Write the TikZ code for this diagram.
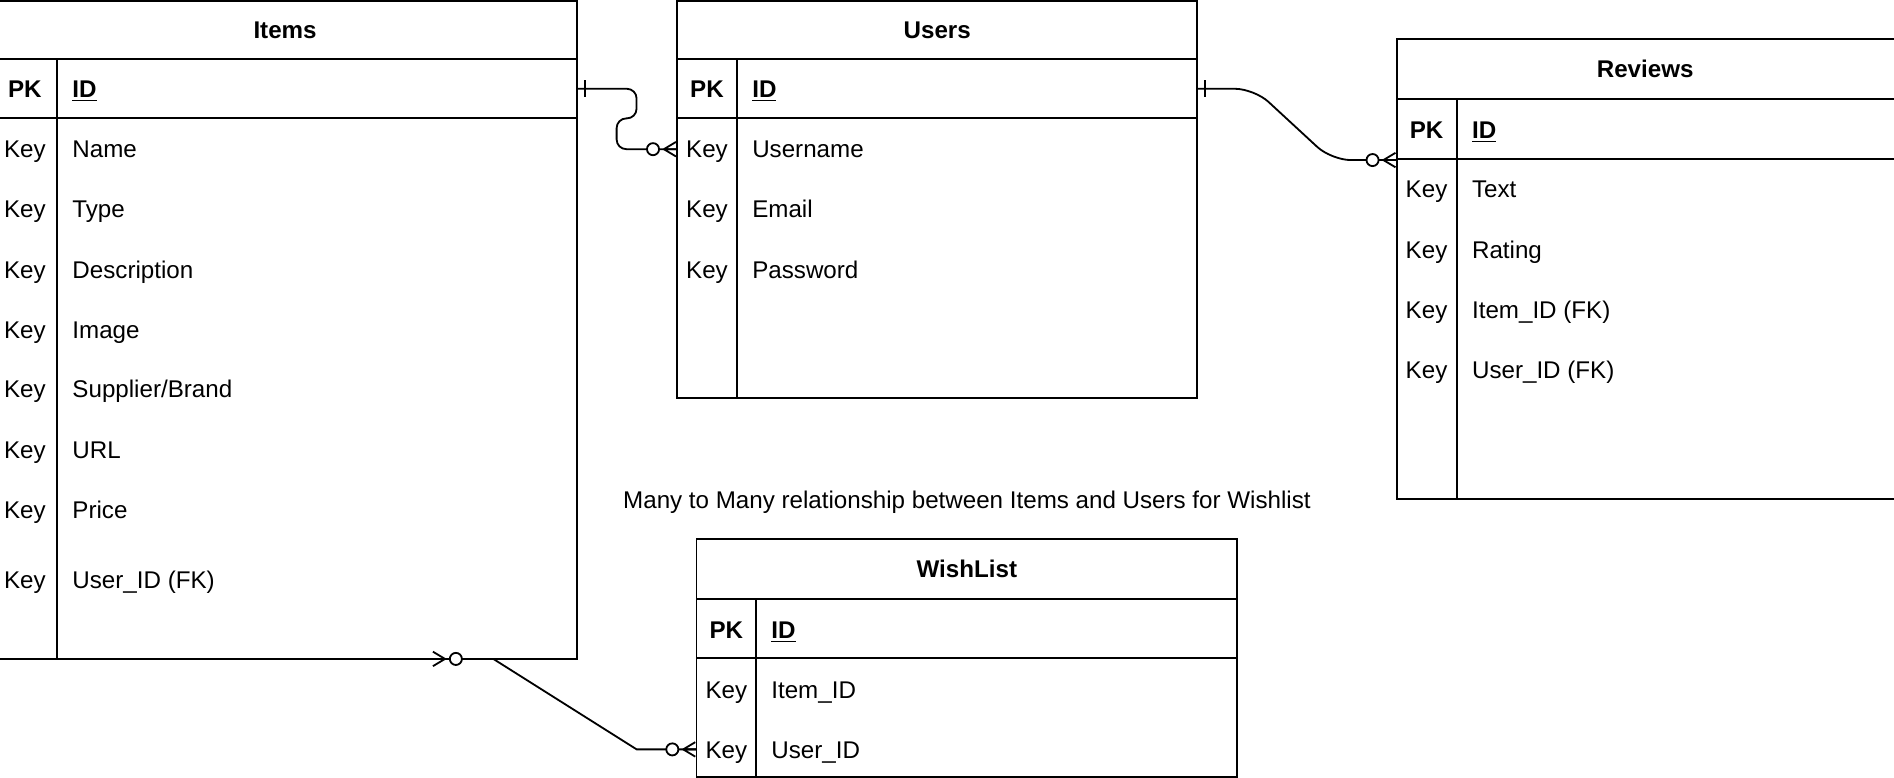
\documentclass[tikz,border=0pt]{standalone}
\usepackage{fontspec}
\setmainfont{Liberation Sans}
\usetikzlibrary{calc}
\tikzset{
 tbl/.style={draw=black, line width=0.8pt},
 tblbox/.style={tbl, inner sep=0pt, outer sep=0pt, anchor=north west},
 txt/.style={inner sep=0pt, outer sep=0pt, text height=7.16pt, text depth=0pt, font=\fontsize{10pt}{12pt}\selectfont},
 fld/.style={txt, anchor=west},
 keyc/.style={txt, anchor=center},
 pkc/.style={txt, anchor=center, font=\fontsize{10pt}{12pt}\selectfont\bfseries},
 ttl/.style={txt, anchor=center, font=\fontsize{10pt}{12pt}\selectfont\bfseries},
 conn/.style={draw=black, line width=0.75pt},
 zeromany/.pic={
   \draw[conn] (-11,0) -- (-1,-6) (-11,0) -- (-1,6) (-11,0) -- (0,0);
   \draw[conn, fill=white] (-20,0) circle[radius=2.5pt];
 },
 onebar/.pic={
   \draw[conn] (6.6,-7) -- (6.6,7);
 },
}
\begin{document}
\begin{tikzpicture}[x=0.5pt,y=-0.5pt]
\useasboundingbox (0,0) rectangle (1568,644);

% ---------- Items ----------
\node[tblbox, minimum width=242pt, minimum height=272.5pt] (items) at (-6,0.5) {};
\draw[tbl] (-6,49) -- (478,49);
\draw[tbl] (-6,98) -- (478,98);
\draw[tbl] (47.3,49) -- (47.3,545.5);
\node[ttl] (itemsT) at (236,24.5) {Items};
\node[pkc] (iPK) at (20.6,73.5) {PK};
\node[fld] (iID) at (60,73.5) {\textbf{\underline{ID}}};
\node[keyc] (ik1) at (20.6,123.5) {Key}; \node[fld] (iName) at (60,123.5) {Name};
\node[keyc] (ik2) at (20.6,173.3) {Key}; \node[fld] (iType) at (60,173.3) {Type};
\node[keyc] (ik3) at (20.6,223) {Key};   \node[fld] (iDesc) at (60,223) {Description};
\node[keyc] (ik4) at (20.6,273) {Key};   \node[fld] (iImg) at (60,273) {Image};
\node[keyc] (ik5) at (20.6,322) {Key};   \node[fld] (iSup) at (60,322) {Supplier/Brand};
\node[keyc] (ik6) at (20.6,372.5) {Key}; \node[fld] (iURL) at (60,372.5) {URL};
\node[keyc] (ik7) at (20.6,422) {Key};   \node[fld] (iPrice) at (60,422) {Price};
\node[keyc] (ik8) at (20.6,480) {Key};   \node[fld] (iUser) at (60,480) {User\_ID (FK)};

% ---------- Users ----------
\node[tblbox, minimum width=215.25pt, minimum height=164.65pt] (users) at (560.6,0.5) {};
\draw[tbl] (560.6,49) -- (991.1,49);
\draw[tbl] (560.6,98) -- (991.1,98);
\draw[tbl] (610,49) -- (610,329.8);
\node[ttl] (usersT) at (775.9,24.5) {Users};
\node[pkc] (uPK) at (585.3,73.5) {PK};
\node[fld] (uID) at (622.8,73.5) {\textbf{\underline{ID}}};
\node[keyc] (uk1) at (585.3,123.5) {Key}; \node[fld] (uUsr) at (622.8,123.5) {Username};
\node[keyc] (uk2) at (585.3,173.3) {Key}; \node[fld] (uMail) at (622.8,173.3) {Email};
\node[keyc] (uk3) at (585.3,223) {Key};   \node[fld] (uPass) at (622.8,223) {Password};

% ---------- Reviews ----------
\node[tblbox, minimum width=206.85pt, minimum height=190.35pt] (reviews) at (1156.3,32.3) {};
\draw[tbl] (1156.3,81.7) -- (1570,81.7);
\draw[tbl] (1156.3,131.6) -- (1570,131.6);
\draw[tbl] (1206,81.7) -- (1206,413);
\node[ttl] (reviewsT) at (1362,57) {Reviews};
\node[pkc] (rPK) at (1181,107.3) {PK};
\node[fld] (rID) at (1218.7,107.3) {\textbf{\underline{ID}}};
\node[keyc] (rk1) at (1181,156.7) {Key}; \node[fld] (rText) at (1218.7,156.7) {Text};
\node[keyc] (rk2) at (1181,206.5) {Key}; \node[fld] (rRate) at (1218.7,206.5) {Rating};
\node[keyc] (rk3) at (1181,256.3) {Key}; \node[fld] (rItem) at (1218.7,256.3) {Item\_ID (FK)};
\node[keyc] (rk4) at (1181,305.8) {Key}; \node[fld] (rUser) at (1218.7,305.8) {User\_ID (FK)};

% ---------- caption ----------
\node[txt, anchor=center] (caption) at (800.5,413.5) {Many to Many relationship between Items and Users for Wishlist};

% ---------- WishList ----------
\node[tblbox, minimum width=223.8pt, minimum height=98.65pt] (wishlist) at (576.6,446) {};
\draw[tbl] (576.6,496) -- (1024.2,496);
\draw[tbl] (576.6,545) -- (1024.2,545);
\draw[tbl] (626,496) -- (626,643.3);
\node[ttl] (wishT) at (800.4,471) {WishList};
\node[pkc] (wPK) at (601.3,521.3) {PK};
\node[fld] (wID) at (638.6,521.3) {\textbf{\underline{ID}}};
\node[keyc] (wk1) at (601.3,571) {Key}; \node[fld] (wItem) at (638.6,571) {Item\_ID};
\node[keyc] (wk2) at (601.3,620.4) {Key}; \node[fld] (wUsr) at (638.6,620.4) {User\_ID};

% ---------- connectors ----------
% Items.ID -> Users.Username
\draw[conn, rounded corners=4pt] (items.east |- iID) -- ++(49,0) -- ++(0,24.5) -- ++(-16.5,0) |- (users.west |- uUsr);
\pic at (items.east |- iID) {onebar};
\pic at (users.west |- uUsr) {zeromany};

% Users.ID -> Reviews
\coordinate (revIn) at ($(reviews.north west)+(0,100.2)$);
\draw[conn, rounded corners=8pt] (users.east |- uID) -- (1038.4,73.5) -- (1102.3,132.5) -- (revIn);
\pic at (users.east |- uID) {onebar};
\pic at (revIn) {zeromany};

% Items -> WishList.User_ID
\coordinate (itemsOut) at ($(items.south east)+(-120.6,0)$);
\draw[conn] (itemsOut) -- ++(51,0) -- ($(wishlist.west |- wUsr)+(-49.5,0)$) -- (wishlist.west |- wUsr);
\pic[rotate=180] at (itemsOut) {zeromany};
\pic at (wishlist.west |- wUsr) {zeromany};
\end{tikzpicture}
\end{document}
